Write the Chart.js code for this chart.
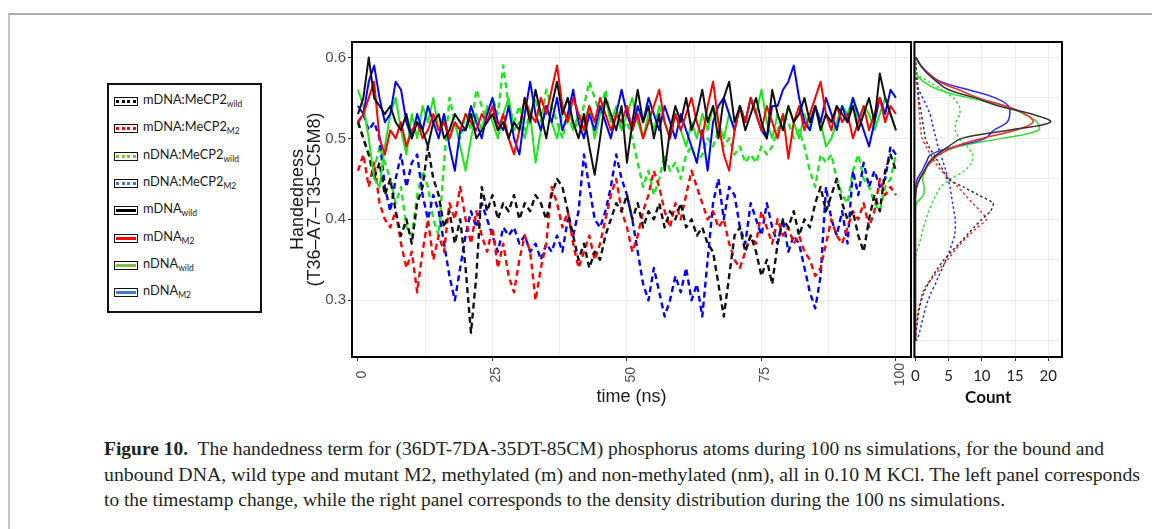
<!DOCTYPE html>
<html><head><meta charset="utf-8"><title>Handedness</title>
<script src="https://cdn.jsdelivr.net/npm/chart.js@4.4.1/dist/chart.umd.min.js"></script>
<style>
html,body{margin:0;padding:0;background:#fff;}
body{width:1152px;height:529px;overflow:hidden;position:relative;}
#frame{position:absolute;left:8px;top:13px;width:1300px;height:700px;border-left:2px solid #c4c4c4;border-top:2px solid #ababab;}
#legend{position:absolute;left:107px;top:83px;width:151px;height:226px;border:2.5px solid #111;}
.sw{position:absolute;width:22px;height:7px;border:1.6px solid #111;background:#fff;}
.sw i{position:absolute;left:1px;right:1px;top:2px;height:3px;}
.lab{position:absolute;font-family:Lato,"Open Sans",sans-serif;font-size:12.8px;line-height:14px;color:#1a1a1a;white-space:nowrap;}
.lab sub{font-size:8.5px;vertical-align:-3px;line-height:0;}
#c1wrap{position:absolute;left:250px;top:30px;width:672px;height:392px;}
#c2wrap{position:absolute;left:905px;top:30px;width:170px;height:392px;}
#caption{position:absolute;left:104px;top:437px;font-family:"Liberation Serif","DejaVu Serif",serif;font-size:18px;line-height:25.5px;color:#231f20;}
.cl{white-space:nowrap;width:max-content;transform-origin:0 50%;}
</style></head>
<body>
<div id="frame"></div>
<div id="legend"></div>
<div id="c1wrap"><canvas id="c1"></canvas></div>
<div id="c2wrap"><canvas id="c2"></canvas></div>
<div id="caption">
<div class="cl"><b>Figure 10.</b>&nbsp; The handedness term for (36DT-7DA-35DT-85CM) phosphorus atoms during 100 ns simulations, for the bound and</div>
<div class="cl">unbound DNA, wild type and mutant M2, methylated (m) and non-methylated (nm), all in 0.10 M KCl. The left panel corresponds</div>
<div class="cl">to the timestamp change, while the right panel corresponds to the density distribution during the 100 ns simulations.</div>
</div>
<script>
// ---------------- DATA ----------------
const timeNs = [0,1,2,3,4,5,6,7,8,9,10,11,12,13,14,15,16,17,18,19,20,21,22,23,24,25,26,27,28,29,30,31,32,33,34,35,36,37,38,39,40,41,42,43,44,45,46,47,48,49,50,51,52,53,54,55,56,57,58,59,60,61,62,63,64,65,66,67,68,69,70,71,72,73,74,75,76,77,78,79,80,81,82,83,84,85,86,87,88,89,90,91,92,93,94,95,96,97,98,99,100];

const mDNAwild = [0.53,0.55,0.60,0.55,0.54,0.53,0.54,0.52,0.51,0.53,
 0.50,0.52,0.51,0.49,0.52,0.53,0.50,0.51,0.53,0.52,
 0.51,0.53,0.50,0.51,0.52,0.53,0.51,0.52,0.50,0.52,
 0.51,0.55,0.52,0.56,0.53,0.50,0.54,0.57,0.53,0.55,
 0.52,0.50,0.53,0.49,0.455,0.50,0.55,0.53,0.51,0.54,
 0.47,0.52,0.56,0.52,0.54,0.50,0.53,0.46,0.51,0.54,
 0.52,0.55,0.51,0.53,0.56,0.52,0.54,0.50,0.55,0.57,
 0.52,0.54,0.51,0.53,0.55,0.52,0.50,0.56,0.53,0.51,
 0.54,0.52,0.53,0.55,0.52,0.54,0.51,0.53,0.52,0.54,
 0.53,0.52,0.54,0.51,0.53,0.55,0.52,0.58,0.55,0.53,
 0.51];
const mDNAM2 = [0.52,0.53,0.55,0.57,0.50,0.48,0.51,0.50,0.52,0.49,
 0.51,0.52,0.50,0.51,0.53,0.51,0.52,0.50,0.52,0.51,
 0.53,0.52,0.51,0.53,0.52,0.54,0.51,0.53,0.50,0.48,
 0.51,0.55,0.53,0.52,0.55,0.53,0.56,0.59,0.54,0.52,
 0.55,0.53,0.51,0.54,0.52,0.55,0.53,0.51,0.53,0.52,
 0.54,0.51,0.53,0.50,0.52,0.54,0.56,0.52,0.50,0.53,
 0.51,0.53,0.55,0.52,0.50,0.54,0.57,0.52,0.48,0.46,
 0.51,0.54,0.52,0.55,0.53,0.51,0.54,0.52,0.50,0.53,
 0.475,0.52,0.54,0.51,0.53,0.55,0.57,0.53,0.51,0.54,
 0.52,0.53,0.50,0.52,0.54,0.51,0.53,0.55,0.52,0.54,
 0.53];
const nDNAwild = [0.56,0.54,0.50,0.45,0.44,0.49,0.53,0.55,0.51,0.48,
 0.53,0.50,0.54,0.52,0.55,0.51,0.53,0.50,0.52,0.49,
 0.46,0.50,0.53,0.51,0.54,0.52,0.50,0.53,0.55,0.51,
 0.52,0.50,0.53,0.47,0.51,0.54,0.52,0.50,0.53,0.55,
 0.51,0.53,0.52,0.54,0.50,0.53,0.55,0.52,0.54,0.51,
 0.53,0.55,0.52,0.50,0.53,0.51,0.54,0.52,0.50,0.53,
 0.51,0.49,0.52,0.50,0.53,0.51,0.54,0.52,0.50,0.53,
 0.51,0.54,0.52,0.55,0.53,0.56,0.52,0.50,0.53,0.51,
 0.54,0.52,0.50,0.53,0.51,0.54,0.52,0.49,0.50,0.52,
 0.54,0.53,0.55,0.52,0.54,0.53,0.51,0.53,0.55,0.53,
 0.51];
const nDNAM2 = [0.54,0.53,0.57,0.59,0.55,0.52,0.53,0.57,0.56,0.52,
 0.50,0.53,0.51,0.54,0.52,0.50,0.53,0.49,0.46,0.51,
 0.51,0.54,0.52,0.50,0.53,0.55,0.52,0.51,0.54,0.50,
 0.48,0.53,0.57,0.53,0.51,0.54,0.52,0.55,0.51,0.53,
 0.56,0.52,0.50,0.53,0.51,0.54,0.52,0.50,0.53,0.56,
 0.53,0.51,0.54,0.52,0.55,0.53,0.51,0.54,0.52,0.50,
 0.53,0.51,0.49,0.47,0.51,0.46,0.52,0.54,0.55,0.53,
 0.51,0.54,0.52,0.55,0.53,0.51,0.50,0.54,0.54,0.56,
 0.57,0.59,0.55,0.52,0.51,0.54,0.52,0.55,0.53,0.51,
 0.54,0.52,0.55,0.53,0.51,0.49,0.52,0.55,0.53,0.56,
 0.55];
const mDNAMeCP2wild = [0.52,0.50,0.48,0.45,0.47,0.43,0.45,0.41,0.38,0.40,
 0.37,0.42,0.44,0.49,0.45,0.43,0.39,0.41,0.37,0.40,
 0.34,0.26,0.33,0.44,0.41,0.43,0.40,0.42,0.41,0.43,
 0.40,0.42,0.41,0.43,0.42,0.40,0.43,0.45,0.44,0.41,
 0.38,0.35,0.37,0.34,0.36,0.35,0.38,0.40,0.42,0.41,
 0.43,0.40,0.42,0.39,0.41,0.40,0.42,0.39,0.41,0.40,
 0.42,0.39,0.40,0.38,0.39,0.37,0.36,0.32,0.28,0.33,
 0.38,0.39,0.36,0.38,0.36,0.33,0.35,0.32,0.37,0.40,
 0.39,0.41,0.38,0.40,0.39,0.42,0.44,0.41,0.43,0.45,
 0.42,0.40,0.41,0.38,0.36,0.40,0.43,0.41,0.46,0.48,
 0.46];
const mDNAMeCP2M2 = [0.46,0.48,0.44,0.47,0.42,0.40,0.39,0.41,0.37,0.34,
 0.36,0.31,0.36,0.40,0.35,0.38,0.36,0.42,0.40,0.44,
 0.40,0.37,0.41,0.38,0.36,0.39,0.34,0.37,0.33,0.31,
 0.35,0.38,0.36,0.30,0.34,0.37,0.44,0.42,0.39,0.41,
 0.37,0.34,0.36,0.38,0.35,0.37,0.40,0.43,0.45,0.41,
 0.39,0.36,0.38,0.41,0.43,0.46,0.44,0.41,0.39,0.42,
 0.40,0.43,0.46,0.44,0.42,0.40,0.41,0.39,0.40,0.37,
 0.35,0.34,0.36,0.38,0.37,0.41,0.39,0.37,0.40,0.38,
 0.39,0.37,0.38,0.36,0.35,0.33,0.34,0.37,0.40,0.38,
 0.37,0.39,0.41,0.40,0.42,0.39,0.41,0.45,0.43,0.44,
 0.43];
const nDNAMeCP2wild = [0.52,0.50,0.48,0.46,0.49,0.47,0.45,0.42,0.44,0.39,
 0.38,0.43,0.46,0.44,0.40,0.38,0.47,0.55,0.52,0.50,
 0.53,0.51,0.56,0.54,0.52,0.55,0.53,0.59,0.54,0.52,
 0.54,0.51,0.53,0.55,0.52,0.56,0.54,0.52,0.50,0.53,
 0.51,0.52,0.54,0.57,0.55,0.53,0.56,0.52,0.53,0.51,
 0.52,0.50,0.47,0.44,0.46,0.43,0.45,0.48,0.46,0.47,
 0.45,0.48,0.49,0.47,0.48,0.50,0.49,0.51,0.49,0.50,
 0.48,0.49,0.47,0.48,0.47,0.49,0.48,0.49,0.51,0.53,
 0.52,0.50,0.51,0.49,0.46,0.44,0.48,0.47,0.48,0.45,
 0.43,0.42,0.46,0.48,0.45,0.44,0.42,0.41,0.44,0.45,
 0.48];
const nDNAMeCP2M2 = [0.52,0.53,0.51,0.52,0.50,0.44,0.41,0.45,0.48,0.44,
 0.47,0.48,0.43,0.40,0.43,0.41,0.37,0.33,0.30,0.34,
 0.38,0.41,0.39,0.42,0.40,0.38,0.36,0.39,0.38,0.39,
 0.37,0.38,0.36,0.37,0.35,0.37,0.36,0.38,0.36,0.40,
 0.38,0.41,0.48,0.44,0.40,0.39,0.41,0.44,0.48,0.45,
 0.43,0.40,0.36,0.32,0.30,0.34,0.31,0.28,0.30,0.33,
 0.31,0.34,0.30,0.32,0.28,0.35,0.42,0.45,0.40,0.44,
 0.43,0.39,0.37,0.42,0.40,0.38,0.42,0.39,0.37,0.40,
 0.36,0.38,0.37,0.34,0.31,0.29,0.33,0.44,0.40,0.38,
 0.41,0.37,0.46,0.43,0.47,0.44,0.46,0.44,0.45,0.49,
 0.48];

// density panel: handedness levels and counts at each level
const densLevels = [0.60,0.59,0.58,0.57,0.56,0.55,0.54,0.53,0.52,0.51,0.50,0.49,0.48,0.47,0.46,0.45,0.44,0.43,0.42,0.41,0.40,0.39,0.38,0.37,0.36,0.35,0.34,0.33,0.32,0.31,0.30,0.29,0.28,0.27,0.26,0.25];
const cntMDNAwild = [0.1,0.8,1.8,3.2,5,9,12.5,17.5,20.3,14,7,5,3.2,2.0,1.4,0.7,0.2,0.05,0,0,0,0,0,0,0,0,0,0,0,0,0,0,0,0,0,0];
const cntMDNAM2 = [0.1,0.8,2,3.5,6.5,9.5,13.5,16.5,17.7,15,10,6,3.5,2.3,1.3,0.6,0.2,0,0,0,0,0,0,0,0,0,0,0,0,0,0,0,0,0,0,0];
const cntNDNAwild = [0,0,0.1,1.2,3.5,8,13.5,16.3,18.3,18.5,13,6.5,3.5,2,1.5,1.1,1.3,1.2,0.2,0,0,0,0,0,0,0,0,0,0,0,0,0,0,0,0,0];
const cntNDNAM2 = [0,0.8,2.0,3.8,8,12,14,14.2,13.8,11.8,10.5,6,2.3,1.6,1.0,0.3,0.05,0,0,0,0,0,0,0,0,0,0,0,0,0,0,0,0,0,0,0];
const cntMDNAMeCP2wild = [0,0.1,0.2,0.3,0.4,0.5,0.7,0.9,1.1,1.3,1.5,2,2.8,3.5,4.2,4.8,7.2,9.5,11.7,11.3,10,8.8,7.7,6.6,5.4,4.3,3.4,2.6,1.9,1.3,0.9,0.6,0.4,0.25,0.1,0];
const cntMDNAMeCP2M2 = [0,0.05,0.1,0.2,0.3,0.4,0.5,0.6,0.7,0.8,1,1.6,2.3,3,3.9,5.2,6.4,7.5,8.6,9.8,10.7,9.3,8,6.8,5.8,4.8,3.8,2.8,1.8,1.1,0.8,0.5,0.3,0.15,0.05,0];
const cntNDNAMeCP2wild = [0,0,0.2,2,4,5.7,6.6,6.7,6.1,6,6.6,7.8,8.6,8.5,7.4,5.3,3.8,3.1,2.5,2.0,1.6,1.2,0.9,0.6,0.2,0,0,0,0,0,0,0,0,0,0,0];
const cntNDNAMeCP2M2 = [0,0,0.05,0.1,0.5,1.1,1.7,2.2,2.5,2.8,3.1,3.4,3.8,4.2,4.6,4.9,5.2,5.4,5.6,5.8,6,6,5.9,5.5,5.1,4.6,4.1,3.5,3,2.4,1.9,1.5,1.2,0.9,0.6,0.2];

const xTickValues = [0,25,50,75,100];
const xTickLabels = ['0','25','50','75','100'];
const yTickValues = [0.3,0.4,0.5,0.6];
const yTickLabels = ['0.3','0.4','0.5','0.6'];
const countTickValues = [0,5,10,15,20];
const countTickLabels = ['0','5','10','15','20'];

const seriesNames = ['mDNA:MeCP2','mDNA:MeCP2','nDNA:MeCP2','nDNA:MeCP2','mDNA','mDNA','nDNA','nDNA'];
const seriesSubs = ['wild','M2','wild','M2','wild','M2','wild','M2'];

// ---------------- STYLE / LAYOUT ----------------
const lineColors = {k:'#111111', r:'#ff0000', g:'#1ee61e', b:'#0000ff'};
const densColors = {k:'#333333', r:'#ff2a2a', g:'#2ee02e', b:'#2a2aff'};
const legendColors = ['#000000','#ff0000','#7cc242','#3d7cc9','#000000','#ff0000','#7cc242','#3d7cc9'];
const legendDotted = [true,true,true,true,false,false,false,false];

// legend
(function(){
  for(let i=0;i<seriesNames.length;i++){
    const cy = 102 + i*27.3;
    const sw = document.createElement('div'); sw.className='sw';
    sw.style.left='114px'; sw.style.top=(cy-5)+'px';
    const ln = document.createElement('i');
    ln.style.background = legendDotted[i]
      ? `repeating-linear-gradient(90deg, ${legendColors[i]} 0 3px, transparent 3px 5.5px)`
      : legendColors[i];
    sw.appendChild(ln);
    document.body.appendChild(sw);
    const lb = document.createElement('div'); lb.className='lab';
    lb.style.left='143px'; lb.style.top=(cy-10)+'px';
    lb.innerHTML = seriesNames[i] + '<sub>' + seriesSubs[i] + '</sub>';
    document.body.appendChild(lb);
  }
})();

// caption fit
(function(){
  const targets=[1000,1036,901];
  document.querySelectorAll('.cl').forEach((el,i)=>{
    const w = el.getBoundingClientRect().width;
    el.style.transform = 'scaleX('+(targets[i]/w)+')';
  });
})();

const boxPlugin = {id:'box', afterDraw(chart){
  const {ctx, chartArea:a} = chart;
  ctx.save(); ctx.strokeStyle='#000'; ctx.lineWidth=2;
  ctx.strokeRect(a.left, a.top, a.right-a.left, a.bottom-a.top);
  ctx.restore();
}};

function ts(values, color, dashed){
  return {
    data: timeNs.map((t,i)=>({x:t, y:values[i]})),
    borderColor: color, borderWidth: dashed?2.4:2,
    borderDash: dashed?[6,4]:[], borderJoinStyle:'round',
    pointRadius:0, tension:0, fill:false
  };
}
const xGrid = [0,12.5,25,37.5,50,62.5,75,87.5,100];
const pad = s => s.length===1 ? s+'\u2007' : (s.length===2 ? s+'\u2008' : s);

new Chart(document.getElementById('c1'), {
  type:'line',
  data:{datasets:[
    ts(mDNAwild, lineColors.k, false),
    ts(mDNAM2, lineColors.r, false),
    ts(nDNAM2, lineColors.b, false),
    ts(nDNAwild, lineColors.g, false),
    ts(mDNAMeCP2wild, lineColors.k, true),
    ts(mDNAMeCP2M2, lineColors.r, true),
    ts(nDNAMeCP2M2, lineColors.b, true),
    ts(nDNAMeCP2wild, lineColors.g, true)
  ]},
  options:{
    animation:false, responsive:true, maintainAspectRatio:false,
    layout:{padding:{top:12,right:11,left:0,bottom:0}},
    plugins:{legend:{display:false}, tooltip:{enabled:false}},
    scales:{
      x:{type:'linear', min:-1.115, max:102.8,
        afterBuildTicks:s=>{s.ticks = xGrid.map(v=>({value:v}));},
        afterFit:s=>{s.height=65;},
        ticks:{minRotation:90,maxRotation:90,autoSkip:false,labelOffset:4,padding:2,
          font:{family:'Liberation Sans',size:14},color:'#4d4d4d',
          callback:v=>{const i=xTickValues.indexOf(v); return i>=0?pad(xTickLabels[i]):'';}},
        grid:{color:'#ececec',lineWidth:1,tickLength:4,
          tickColor:c=> (c.tick && xTickValues.includes(c.tick.value)) ? '#333' : 'rgba(0,0,0,0)'},
        border:{display:false},
        title:{display:true,text:'time (ns)',font:{family:'Liberation Sans',size:18},color:'#1a1a1a',padding:{top:0,bottom:14}}
      },
      y:{type:'linear', min:0.23, max:0.619,
        afterBuildTicks:s=>{s.ticks = yTickValues.map(v=>({value:v}));},
        afterFit:s=>{s.width=102;},
        ticks:{padding:2,font:{family:'Liberation Sans',size:15},color:'#4d4d4d',
          callback:v=>{const i=yTickValues.findIndex(t=>Math.abs(t-v)<1e-9); return i>=0?yTickLabels[i]:'';}},
        grid:{color:'#ececec',lineWidth:1,tickLength:4,tickColor:'#333'},
        border:{display:false},
        title:{display:true,text:['Handedness','(T36\u2013A7\u2013T35\u2013C5M8)'],
          font:{family:'Liberation Sans',size:18,lineHeight:0.92},color:'#1a1a1a',padding:{top:40,bottom:0}}
      }
    }
  },
  plugins:[boxPlugin]
});

function ds(counts, color, dashed){
  return {
    data: densLevels.map((lv,i)=>({x:counts[i], y:lv})),
    borderColor: color, borderWidth: 1.5,
    borderDash: dashed?[2.5,2.5]:[], pointRadius:0,
    tension: dashed?0.2:0.4, fill:false
  };
}
const densGridY = [0.25,0.3,0.35,0.4,0.45,0.5,0.55,0.6];
new Chart(document.getElementById('c2'), {
  type:'line',
  data:{datasets:[
    ds(cntMDNAwild, densColors.k, false),
    ds(cntMDNAM2, densColors.r, false),
    ds(cntNDNAM2, densColors.b, false),
    ds(cntNDNAwild, densColors.g, false),
    ds(cntMDNAMeCP2wild, densColors.k, true),
    ds(cntMDNAMeCP2M2, densColors.r, true),
    ds(cntNDNAMeCP2M2, densColors.b, true),
    ds(cntNDNAMeCP2wild, densColors.g, true)
  ]},
  options:{
    animation:false, responsive:true, maintainAspectRatio:false,
    layout:{padding:{top:12,right:13,left:6,bottom:0}},
    plugins:{legend:{display:false}, tooltip:{enabled:false}},
    scales:{
      x:{type:'linear', min:-0.15, max:22.06,
        afterBuildTicks:s=>{s.ticks = countTickValues.map(v=>({value:v}));},
        afterFit:s=>{s.height=65;},
        ticks:{maxRotation:0,minRotation:0,autoSkip:false,padding:6,
          font:{family:'Lato',size:15},color:'#222',
          callback:v=>{const i=countTickValues.indexOf(v); return i>=0?countTickLabels[i]:'';}},
        grid:{color:'#ececec',lineWidth:1,tickLength:4,tickColor:'#333'},
        border:{display:false},
        title:{display:true,text:'Count',font:{family:'Lato',size:17,weight:'bold'},color:'#111',padding:{top:0,bottom:14}}
      },
      y:{type:'linear', min:0.23, max:0.619,
        afterBuildTicks:s=>{s.ticks = densGridY.map(v=>({value:v}));},
        afterFit:s=>{s.width=0;},
        ticks:{display:false},
        grid:{color:'#ececec',lineWidth:1,drawTicks:false},
        border:{display:false}
      }
    }
  },
  plugins:[boxPlugin]
});
</script>
</body></html>
